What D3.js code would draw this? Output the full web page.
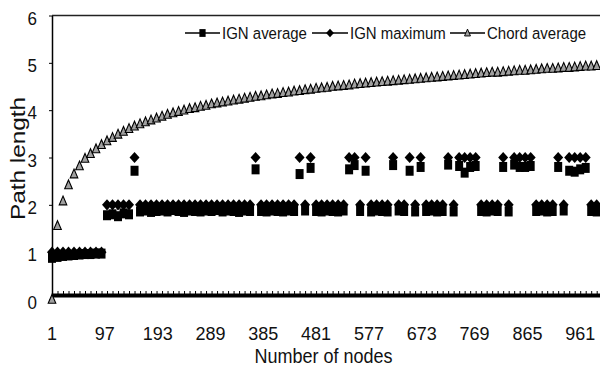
<!DOCTYPE html>
<html>
<head>
<meta charset="utf-8">
<script src="https://cdn.jsdelivr.net/npm/d3@7/dist/d3.min.js"></script>
<style>
  html, body { margin: 0; padding: 0; background: #fff; }
  svg { display: block; }
</style>
</head>
<body>
<svg id="chart" width="600" height="371"></svg>
<script>
// Sampled network sizes (x categories)
const nodes = [
  1, 11, 21, 31, 41, 51, 61, 71, 81, 91,
  101, 111, 121, 131, 141, 151, 161, 171, 181, 191,
  201, 211, 221, 231, 241, 251, 261, 271, 281, 291,
  301, 311, 321, 331, 341, 351, 361, 371, 381, 391,
  401, 411, 421, 431, 441, 451, 461, 471, 481, 491,
  501, 511, 521, 531, 541, 551, 561, 571, 581, 591,
  601, 611, 621, 631, 641, 651, 661, 671, 681, 691,
  701, 711, 721, 731, 741, 751, 761, 771, 781, 791,
  801, 811, 821, 831, 841, 851, 861, 871, 881, 891,
  901, 911, 921, 931, 941, 951, 961, 971, 981, 991
];

const ignAverage = [
  0.88, 0.90, 0.92, 0.93, 0.94, 0.95, 0.96, 0.96, 0.97, 0.97,
  1.78, 1.80, 1.76, 1.82, 1.80, 2.72, 1.86, 1.88, 1.85, 1.87,
  1.88, 1.86, 1.89, 1.87, 1.85, 1.88, 1.87, 1.86, 1.88, 1.87,
  1.89, 1.86, 1.88, 1.87, 1.85, 1.88, 1.87, 2.75, 1.87, 1.86,
  1.88, 1.87, 1.86, 1.88, 1.87, 2.65, 1.88, 2.78, 1.87, 1.86,
  1.88, 1.87, 1.86, 1.88, 2.75, 2.84, 1.87, 2.72, 1.86, 1.88,
  1.87, 1.86, 2.84, 1.88, 1.87, 2.72, 1.86, 2.80, 1.87, 1.88,
  1.86, 1.87, 2.85, 1.86, 2.82, 2.68, 2.80, 2.82, 1.87, 1.86,
  1.88, 1.87, 2.80, 1.86, 2.85, 2.80, 2.80, 2.82, 1.87, 1.88,
  1.86, 1.87, 2.80, 1.88, 2.72, 2.70, 2.75, 2.78, 1.87, 1.86
];

const ignMaximum = [
  1, 1, 1, 1, 1, 1, 1, 1, 1, 1,
  2, 2, 2, 2, 2, 3, 2, 2, 2, 2,
  2, 2, 2, 2, 2, 2, 2, 2, 2, 2,
  2, 2, 2, 2, 2, 2, 2, 3, 2, 2,
  2, 2, 2, 2, 2, 3, 2, 3, 2, 2,
  2, 2, 2, 2, 3, 3, 2, 3, 2, 2,
  2, 2, 3, 2, 2, 3, 2, 3, 2, 2,
  2, 2, 3, 2, 3, 3, 3, 3, 2, 2,
  2, 2, 3, 2, 3, 3, 3, 3, 2, 2,
  2, 2, 3, 2, 3, 3, 3, 3, 2, 2
];

const chordAverage = [
  0.00, 1.56, 2.08, 2.42, 2.65, 2.82, 2.98, 3.08, 3.18, 3.27,
  3.35, 3.42, 3.49, 3.55, 3.61, 3.66, 3.71, 3.75, 3.79, 3.83,
  3.87, 3.91, 3.94, 3.97, 4.00, 4.03, 4.05, 4.08, 4.10, 4.13,
  4.15, 4.17, 4.19, 4.21, 4.23, 4.25, 4.27, 4.29, 4.30, 4.32,
  4.34, 4.35, 4.37, 4.38, 4.40, 4.41, 4.43, 4.44, 4.46, 4.47,
  4.48, 4.50, 4.51, 4.52, 4.53, 4.55, 4.56, 4.57, 4.58, 4.59,
  4.60, 4.61, 4.62, 4.63, 4.64, 4.65, 4.66, 4.67, 4.68, 4.69,
  4.70, 4.71, 4.72, 4.73, 4.74, 4.75, 4.76, 4.77, 4.78, 4.79,
  4.80, 4.80, 4.81, 4.82, 4.83, 4.84, 4.84, 4.85, 4.86, 4.87,
  4.88, 4.88, 4.89, 4.90, 4.90, 4.91, 4.92, 4.93, 4.93, 4.94
];

const xTickLabels = [1, 97, 193, 289, 385, 481, 577, 673, 769, 865, 961];
const yTicks = [0, 1, 2, 3, 4, 5, 6];
const seriesNames = ["IGN average", "IGN maximum", "Chord average"];

const W = 600, H = 371;
const PLOT = { left: 52, right: 600, top: 15.5, bottom: 299.5 };
const FONT = "Arial, 'Liberation Sans', Helvetica, sans-serif";
const INK = "#111";

// marker shapes (slightly taller than wide, like the scanned original)
const SHAPES = {
  square: "M-4,-5h8v10h-8Z",
  diamond: "M0,-5.6L5,0L0,5.6L-5,0Z",
  triangle: "M0,-5L3.8,3.8L-3.8,3.8Z",
};
const STYLE = {
  square: { fill: "#000", stroke: "none" },
  diamond: { fill: "#000", stroke: "none" },
  triangle: { fill: "#a0a0a0", stroke: "#000" },
};

const x = d3.scaleLinear().domain([1, 997]).range([PLOT.left, PLOT.right]);
const y = d3.scaleLinear().domain([0, 6]).range([PLOT.bottom, PLOT.top]);

const svg = d3.select("#chart");

function addText(px, py, str, size, sy, anchor, rotate) {
  return svg.append("text")
    .attr("transform", `translate(${px},${py}) scale(1,${sy})${rotate ? " rotate(-90)" : ""}`)
    .attr("font-family", FONT).attr("font-size", size + "px")
    .attr("fill", INK).attr("text-anchor", anchor)
    .text(str);
}

// top border of the plot area
svg.append("line")
  .attr("x1", PLOT.left).attr("x2", W)
  .attr("y1", y(6)).attr("y2", y(6))
  .attr("stroke", "#222").attr("stroke-width", 1.5);

// y axis
svg.append("g").attr("transform", `translate(${PLOT.left},0)`)
  .call(d3.axisLeft(y).tickValues(yTicks).tickSize(3).tickSizeOuter(0).tickFormat(""))
  .call(ax => ax.select(".domain").attr("stroke", "#000").attr("stroke-width", 1.5))
  .call(ax => ax.selectAll(".tick line").attr("stroke", "#000"));

// thick base band along zero with small notches
svg.append("g").attr("transform", `translate(0,${y(0) - 4.5})`)
  .call(d3.axisBottom(x).tickValues(nodes).tickSize(-4).tickSizeOuter(0).tickFormat(""))
  .call(ax => ax.select(".domain").attr("stroke", "#000").attr("stroke-width", 4))
  .call(ax => ax.selectAll(".tick line").attr("stroke", "#000").attr("stroke-width", 1));

// y tick labels
yTicks.forEach(v => addText(37, y(v) + 9, String(v), 17, 1.05, "end"));

// x tick labels
xTickLabels.forEach(v => addText(x(v), 340, String(v), 18, 1.05, "middle"));

// axis titles
addText(323.5, 363, "Number of nodes", 18, 1.16, "middle");
addText(25, 158.5, "Path length", 21, 1.16, "middle", true);

// series markers
function drawSeries(values, shape) {
  const st = STYLE[shape];
  svg.append("g").selectAll("path")
    .data(values.map((v, i) => ({ n: nodes[i], v })))
    .join("path")
    .attr("transform", d => `translate(${x(d.n)},${y(d.v)})`)
    .attr("d", SHAPES[shape])
    .attr("fill", st.fill)
    .attr("stroke", st.stroke).attr("stroke-width", 1.1);
}
drawSeries(ignAverage, "square");
drawSeries(ignMaximum, "diamond");
drawSeries(chordAverage, "triangle");

// legend
const legendShapes = ["square", "diamond", "triangle"];
const legendLineX = [[185, 220], [312, 348], [450, 485]];
const legendY = 33;
seriesNames.forEach((name, i) => {
  const [a, b] = legendLineX[i];
  svg.append("line").attr("x1", a).attr("x2", b)
    .attr("y1", legendY).attr("y2", legendY)
    .attr("stroke", "#000").attr("stroke-width", 1.5);
  const st = STYLE[legendShapes[i]];
  svg.append("path")
    .attr("transform", `translate(${(a + b) / 2},${legendY}) scale(0.78)`)
    .attr("d", SHAPES[legendShapes[i]])
    .attr("fill", st.fill).attr("stroke", st.stroke).attr("stroke-width", 1.2);
  addText(b + 2, 38.5, name, 15, 1.1, "start");
});
</script>
</body>
</html>
